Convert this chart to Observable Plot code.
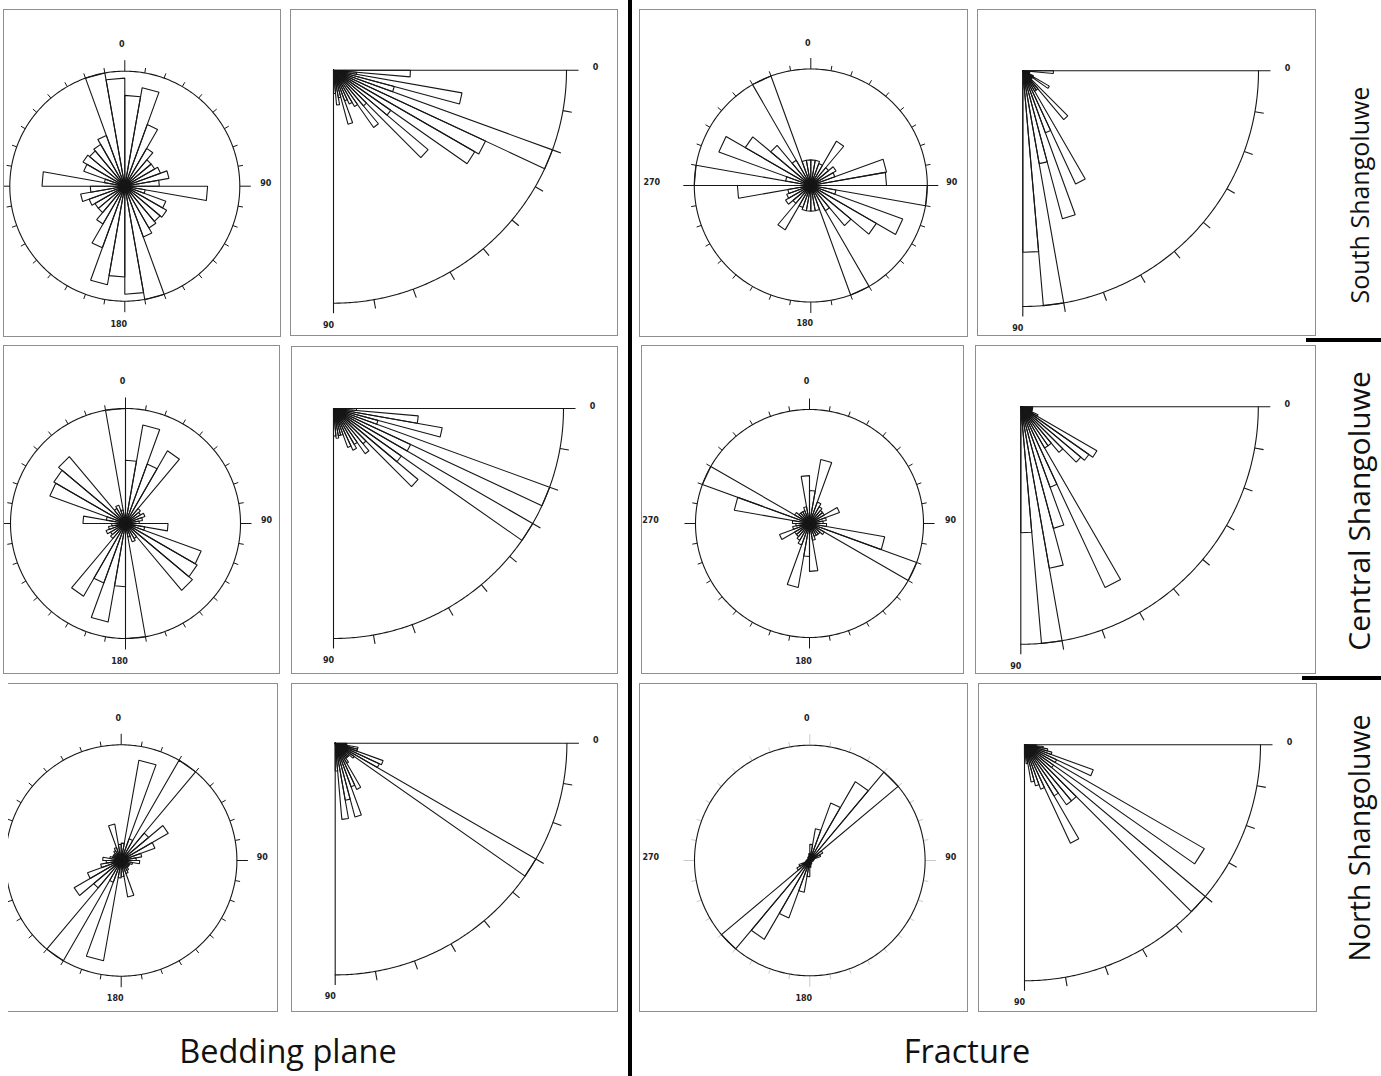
<!DOCTYPE html>
<html>
<head>
<meta charset="utf-8">
<script src="https://cdn.jsdelivr.net/npm/d3@7"></script>
<script src="https://cdn.jsdelivr.net/npm/@observablehq/plot@0.6"></script>
<style>
  html, body { margin: 0; padding: 0; background: #fff; }
  #fig { position: relative; width: 1381px; height: 1076px; background: #fff; overflow: hidden; }
  .panel { position: absolute; box-sizing: border-box; border: 1px solid #8e8e8e; background: #fff; overflow: hidden; }
  .panel svg { display: block; }
  .bar { position: absolute; background: #000; }
  #overlay { position: absolute; left: 0; top: 0; pointer-events: none; }
</style>
</head>
<body>
<div id="fig"></div>
<script>
// ---------------- DATA (relative frequency, 1 = outer circle) ----------------
// strike roses: 10-degree bins 0..170 (mirrored to 180..350, bidirectional strike data)
const strikeBins = [0, 10, 20, 30, 40, 50, 60, 70, 80, 90, 100, 110, 120, 130, 140, 150, 160, 170];
// dip roses: 5-degree bins 0..85
const dipBins = [0, 5, 10, 15, 20, 25, 30, 35, 40, 45, 50, 55, 60, 65, 70, 75, 80, 85];

const southBeddingStrike   = [0.79, 0.87, 0.57, 0.38, 0.30, 0.30, 0.33, 0.39, 0.30, 0.72, 0.18, 0.38, 0.42, 0.40, 0.42, 0.47, 1.00, 0.94];
const southBeddingDip      = [0.33, 0.10, 0.56, 0.27, 1.00, 0.72, 0.70, 0.30, 0.53, 0.20, 0.30, 0.18, 0.16, 0.14, 0.24, 0.12, 0.15, 0.10];
const southFractureStrike  = [0.22, 0.22, 0.20, 0.44, 0.20, 0.25, 0.22, 0.66, 0.65, 1.00, 0.22, 0.84, 0.65, 0.45, 0.25, 1.00, 0.22, 0.22];
// 180..350 half of the south fracture rose (differs at 250-260)
const southFractureStrikeBack = [0.22, 0.22, 0.20, 0.44, 0.20, 0.25, 0.22, 0.20, 0.63, 1.00, 0.22, 0.84, 0.65, 0.45, 0.25, 1.00, 0.22, 0.22];
const southFractureDip     = [0.13, 0.03, 0.03, 0.03, 0.03, 0.05, 0.13, 0.05, 0.05, 0.27, 0.10, 0.10, 0.53, 0.28, 0.65, 0.40, 1.00, 0.77];

const centralBeddingStrike  = [0.55, 0.87, 0.55, 0.73, 0.17, 0.15, 0.18, 0.15, 0.12, 0.37, 0.17, 0.70, 0.72, 0.76, 0.15, 0.17, 0.12, 1.00];
const centralBeddingDip     = [0.10, 0.37, 0.48, 0.20, 1.00, 0.37, 1.00, 0.36, 0.48, 0.20, 0.24, 0.18, 0.20, 0.18, 0.12, 0.12, 0.13, 0.12];
const centralFractureStrike = [0.29, 0.57, 0.20, 0.17, 0.15, 0.15, 0.28, 0.15, 0.12, 0.15, 0.67, 1.00, 0.15, 0.12, 0.12, 0.12, 0.15, 0.42];
const centralFractureDip    = [0.05, 0.05, 0.05, 0.05, 0.05, 0.08, 0.37, 0.35, 0.33, 0.25, 0.20, 0.20, 0.84, 0.36, 0.53, 0.69, 1.00, 0.53];

const northBeddingStrike  = [0.15, 0.88, 0.20, 1.00, 0.31, 0.47, 0.31, 0.18, 0.13, 0.16, 0.10, 0.08, 0.08, 0.08, 0.10, 0.12, 0.32, 0.14];
const northBeddingDip     = [0.05, 0.05, 0.10, 0.10, 0.22, 0.21, 1.00, 0.10, 0.08, 0.08, 0.08, 0.10, 0.22, 0.20, 0.33, 0.25, 0.33, 0.12];
const northFractureStrike = [0.14, 0.28, 0.53, 0.79, 1.00, 0.13, 0.10, 0.04, 0.03, 0.03, 0.02, 0.02, 0.02, 0.02, 0.03, 0.03, 0.04, 0.06];
const northFractureDip    = [0.05, 0.08, 0.10, 0.12, 0.31, 0.15, 0.88, 0.15, 1.00, 0.31, 0.31, 0.25, 0.46, 0.20, 0.18, 0.16, 0.08, 0.05];

const rowLabels = ["South Shangoluwe", "Central Shangoluwe", "North Shangoluwe"];
const columnLabels = ["Bedding plane", "Fracture"];
const strikeAxisLabels = ["0", "90", "180", "270"];
const beddingAxisLabels = ["0", "90", "180"];
const dipAxisLabels = ["0", "90"];

// ---------------- LAYOUT ----------------
const panels = [
  {kind: "strike", values: southBeddingStrike,   box: [3, 9, 281, 337],    center: [124.3, 185.7], R: 115,   labels: beddingAxisLabels},
  {kind: "dip",    values: southBeddingDip,      box: [290, 9, 618, 336],  center: [333, 69.7],    R: 233},
  {kind: "strike", values: southFractureStrike,  back: southFractureStrikeBack, box: [639, 9, 968, 337],  center: [810.3, 185],   R: 116.5, labels: strikeAxisLabels},
  {kind: "dip",    values: southFractureDip,     box: [977, 9, 1316, 336], center: [1022.3, 70.3], R: 235.7},
  {kind: "strike", values: centralBeddingStrike, box: [3, 345, 280, 674],  center: [125, 523],     R: 115,   labels: beddingAxisLabels},
  {kind: "dip",    values: centralBeddingDip,    box: [291, 346, 618, 674], center: [333, 408],    R: 230},
  {kind: "strike", values: centralFractureStrike, box: [641, 345, 964, 674], center: [809, 523],   R: 114,   labels: strikeAxisLabels},
  {kind: "dip",    values: centralFractureDip,   box: [975, 345, 1316, 674], center: [1020.3, 406.3], R: 237.5},
  {kind: "strike", values: northBeddingStrike,   box: [8, 683, 278, 1012], center: [120.7, 860],   R: 115.7, labels: beddingAxisLabels, noLeftBorder: true},
  {kind: "dip",    values: northBeddingDip,      box: [291, 683, 618, 1012], center: [334.7, 742.7], R: 231.7},
  {kind: "strike", values: northFractureStrike,  box: [639, 683, 968, 1012], center: [809.3, 860], R: 115.3, labels: strikeAxisLabels, tickColor: "#c9c9c9"},
  {kind: "dip",    values: northFractureDip,     box: [978, 683, 1317, 1012], center: [1024, 744.3], R: 236}
];

const INK = "#161616";
const rad = (d) => d * Math.PI / 180;

function strikeMarks(p) {
  const R = p.R;
  const back = p.back || p.values;
  const bins = strikeBins.map((s, i) => ({start: s, v: p.values[i]}))
    .concat(strikeBins.map((s, i) => ({start: s + 180, v: back[i]})));
  const pts = [];
  bins.forEach((d, k) => {
    const a0 = rad(d.start), a1 = rad(d.start + 10);
    [[0, 0], [d.v * Math.sin(a0), d.v * Math.cos(a0)], [d.v * Math.sin(a1), d.v * Math.cos(a1)], [0, 0]]
      .forEach(([x, y]) => pts.push({bin: k, x, y}));
  });
  const circle = d3.range(0, 361, 1).map(a => ({x: Math.sin(rad(a)), y: Math.cos(rad(a))}));
  const ticks = d3.range(0, 360, 10).map(a => {
    const L = (a % 90 === 0 ? 11 : 5) / R;
    return {x1: Math.sin(rad(a)), y1: Math.cos(rad(a)), x2: (1 + L) * Math.sin(rad(a)), y2: (1 + L) * Math.cos(rad(a))};
  });
  const off = {"0": [-3, -142], "90": [141, -3], "180": [-6, 138], "270": [-159, -3]};
  const labels = p.labels.map(t => ({t, x: off[t][0] / R, y: -off[t][1] / R}));
  return [
    Plot.link(ticks, {x1: "x1", y1: "y1", x2: "x2", y2: "y2", stroke: p.tickColor || INK, strokeWidth: 1}),
    Plot.line(circle, {x: "x", y: "y", stroke: INK, strokeWidth: 1.1}),
    Plot.line(pts, {x: "x", y: "y", z: "bin", stroke: INK, strokeWidth: 1.1, strokeLinejoin: "miter"}),
    Plot.text(labels, {x: "x", y: "y", text: "t", fontSize: 8, fontWeight: "bold", fontFamily: "DejaVu Sans", fill: "#222"})
  ];
}

function dipMarks(p) {
  const R = p.R;
  const pts = [];
  dipBins.forEach((s, k) => {
    const v = p.values[k];
    const a0 = rad(s), a1 = rad(s + 5);
    [[0, 0], [v * Math.cos(a0), -v * Math.sin(a0)], [v * Math.cos(a1), -v * Math.sin(a1)], [0, 0]]
      .forEach(([x, y]) => pts.push({bin: k, x, y}));
  });
  const arc = d3.range(0, 90.25, 0.5).map(a => ({x: Math.cos(rad(a)), y: -Math.sin(rad(a))}));
  const axes = [
    {x1: 0, y1: 0, x2: 1 + 12 / R, y2: 0},
    {x1: 0, y1: 0, x2: 0, y2: -(1 + 10 / R)}
  ];
  const ticks = d3.range(10, 90, 10).map(a => {
    const L = 1 + 9 / R;
    return {x1: Math.cos(rad(a)), y1: -Math.sin(rad(a)), x2: L * Math.cos(rad(a)), y2: -L * Math.sin(rad(a))};
  });
  const labels = [
    {t: dipAxisLabels[0], x: 1 + 29 / R, y: 2.5 / R},
    {t: dipAxisLabels[1], x: -5 / R, y: -(1 + 22 / R)}
  ];
  return [
    Plot.link(axes.concat(ticks), {x1: "x1", y1: "y1", x2: "x2", y2: "y2", stroke: INK, strokeWidth: 1.1}),
    Plot.line(arc, {x: "x", y: "y", stroke: INK, strokeWidth: 1.1}),
    Plot.line(pts, {x: "x", y: "y", z: "bin", stroke: INK, strokeWidth: 1.1, strokeLinejoin: "miter"}),
    Plot.text(labels, {x: "x", y: "y", text: "t", fontSize: 8, fontWeight: "bold", fontFamily: "DejaVu Sans", fill: "#222"})
  ];
}

const fig = document.getElementById("fig");

panels.forEach(p => {
  const [l, t, r, b] = p.box;
  const div = document.createElement("div");
  div.className = "panel";
  div.style.left = l + "px";
  div.style.top = t + "px";
  div.style.width = (r - l) + "px";
  div.style.height = (b - t) + "px";
  const bl = p.noLeftBorder ? 0 : 1;
  if (p.noLeftBorder) div.style.borderLeft = "none";
  const W = r - l - bl - 1, H = b - t - 2;
  const cx = p.center[0] - l - bl, cy = p.center[1] - t - 1;
  const R = p.R;
  const svg = Plot.plot({
    width: W, height: H, margin: 0,
    x: {domain: [-cx / R, (W - cx) / R], range: [0, W], axis: null},
    y: {domain: [-(H - cy) / R, cy / R], range: [H, 0], axis: null},
    style: {background: "#fff", overflow: "hidden"},
    marks: p.kind === "strike" ? strikeMarks(p) : dipMarks(p)
  });
  div.appendChild(svg);
  fig.appendChild(div);
});

// thick separators
[[628, 0, 4, 1076], [1306, 338, 75, 4], [1302, 676, 79, 4]].forEach(([x, y, w, h]) => {
  const d = document.createElement("div");
  d.className = "bar";
  Object.assign(d.style, {left: x + "px", top: y + "px", width: w + "px", height: h + "px"});
  fig.appendChild(d);
});

// text overlay
const overlay = d3.select(fig).append("svg").attr("id", "overlay").attr("width", 1381).attr("height", 1076);
const colX = [288, 967];
overlay.selectAll("text.col").data(columnLabels).join("text")
  .attr("class", "col")
  .attr("x", (d, i) => colX[i]).attr("y", 1063)
  .attr("text-anchor", "middle")
  .style("font-family", "'Open Sans', sans-serif").style("font-size", "32.5px").style("fill", "#111")
  .text(d => d);
const rowY = [195, 511, 838];
const rowSize = [25, 30, 28.5];
const rowX = [1369, 1370, 1370];
overlay.selectAll("text.row").data(rowLabels).join("text")
  .attr("class", "row")
  .attr("transform", (d, i) => `translate(${rowX[i]},${rowY[i]}) rotate(-90)`)
  .attr("text-anchor", "middle")
  .style("font-family", "'Open Sans', sans-serif").style("font-size", (d, i) => rowSize[i] + "px").style("fill", "#111")
  .text(d => d);
</script>
</body>
</html>
